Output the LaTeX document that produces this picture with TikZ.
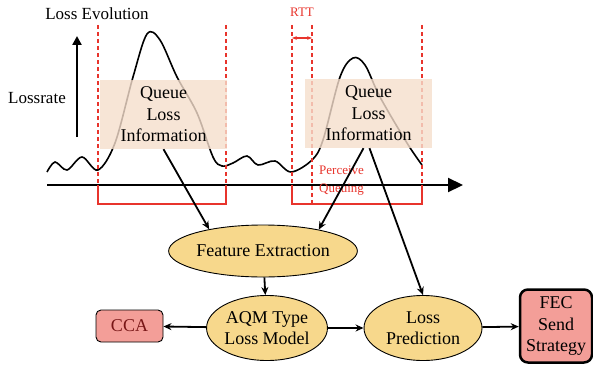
\documentclass[tikz,border=0pt]{standalone}
\usepackage{fontspec}
\setmainfont{Liberation Serif}
\usetikzlibrary{arrows.meta,shapes.geometric}
\definecolor{lossred}{RGB}{232,52,44}
\definecolor{peach}{RGB}{245,222,204}
\definecolor{sand}{RGB}{247,216,140}
\definecolor{salmon}{RGB}{243,158,152}
\definecolor{darkred}{RGB}{120,22,22}
\begin{document}
\begin{tikzpicture}[
    x=1pt, y=-1pt,
    every node/.style={inner sep=0pt, font=\fontsize{18}{21.5}\selectfont, align=center},
    label/.style={font=\fontsize{17}{20}\selectfont},
    redlabel/.style={text=lossred, font=\fontsize{13}{18}\selectfont},
    qbox/.style={fill=peach, fill opacity=0.8, text opacity=1, minimum width=127, minimum height=69},
    stage/.style={ellipse, draw, line width=0.9pt, fill=sand},
    result/.style={rectangle, rounded corners=5pt, draw, fill=salmon},
    flow/.style={line width=1.8pt, -{Stealth[length=8pt,width=7pt]}},
    marker/.style={lossred, line width=1.1pt, dash pattern=on 4pt off 3pt}
]
\useasboundingbox (0,0) rectangle (593,369);
% labels of the loss plot
\node[label] (lossevo) at (97,14) {Loss Evolution};
\node[label] (lossrate) at (37,98) {Lossrate};
\coordinate (ybot) at (77,137);
\coordinate (ytop) at (77,36);
\draw[line width=2.5pt, -{Triangle[length=9pt,width=9pt]}] (ybot) -- (ytop);
% loss curve
\draw[line width=1.6pt] plot[smooth, tension=0.55] coordinates {
    (47,172) (55,162) (67,170) (82,157) (98,170) (115,143) (133,77)
    (147,34) (160,40) (177,77) (197,113) (213,157) (222,166) (233,163)
    (247,156) (258,165) (275,161) (291,172) (312,160) (323,140) (340,77)
    (353,58) (365,65) (380,97) (407,143) (422,165)};
% time axis
\coordinate (xleft) at (47,185);
\coordinate (xright) at (463,185);
\draw[line width=2.2pt, -{Triangle[length=15pt,width=14pt]}] (xleft) -- (xright);
% queue windows
\draw[marker] (98,25) -- (98,185);
\draw[marker] (226,25) -- (226,185);
\draw[marker] (292,25) -- (292,185);
\draw[marker] (312,25) -- (312,203);
\draw[marker] (422,25) -- (422,185);
\draw[lossred, line width=1.1pt] (98,185) |- (226,204) -- (226,185);
\draw[lossred, line width=1.1pt] (292,185) |- (422,204) -- (422,185);
\coordinate (rttl) at (292,38);
\coordinate (rttr) at (312,38);
\draw[lossred, line width=1.1pt, {Stealth[length=5pt]}-{Stealth[length=5pt]}] (rttl) -- (rttr);
\node[redlabel] (rtt) at (302,12) {RTT};
\node[redlabel, align=left, anchor=north west] (perceive) at (319,166) {Perceive\\Queuing};
\node[qbox] (qbox1) at (163.5,114.5) {Queue\\Loss\\Information};
\node[qbox] (qbox2) at (368.5,113.5) {Queue\\Loss\\Information};
% processing chain
\node[stage, minimum width=155, minimum height=52] (feat) at (263,251) {Feature Extraction};
\node[stage, minimum width=118, minimum height=65] (aqm) at (267,328) {AQM Type\\Loss Model};
\node[stage, minimum width=118, minimum height=65] (pred) at (423,328) {Loss\\Prediction};
\node[result, text=darkred, line width=0.9pt, minimum width=67, minimum height=32] (cca) at (129.5,326) {CCA};
\node[result, line width=2.5pt, minimum width=72, minimum height=73, rounded corners=8pt] (fec) at (556,326) {FEC\\Send\\Strategy};
\draw[flow] (qbox1.south) -- (feat.158);
\draw[flow] ([xshift=-5]qbox2.south) -- (feat.21);
\draw[flow] ([xshift=1]qbox2.south) -- (pred.north);
\draw[flow] (feat) -- (aqm);
\draw[flow] (aqm) -- (cca);
\draw[flow] (aqm) -- (pred);
\draw[flow] (pred) -- (fec);
\end{tikzpicture}
\end{document}
